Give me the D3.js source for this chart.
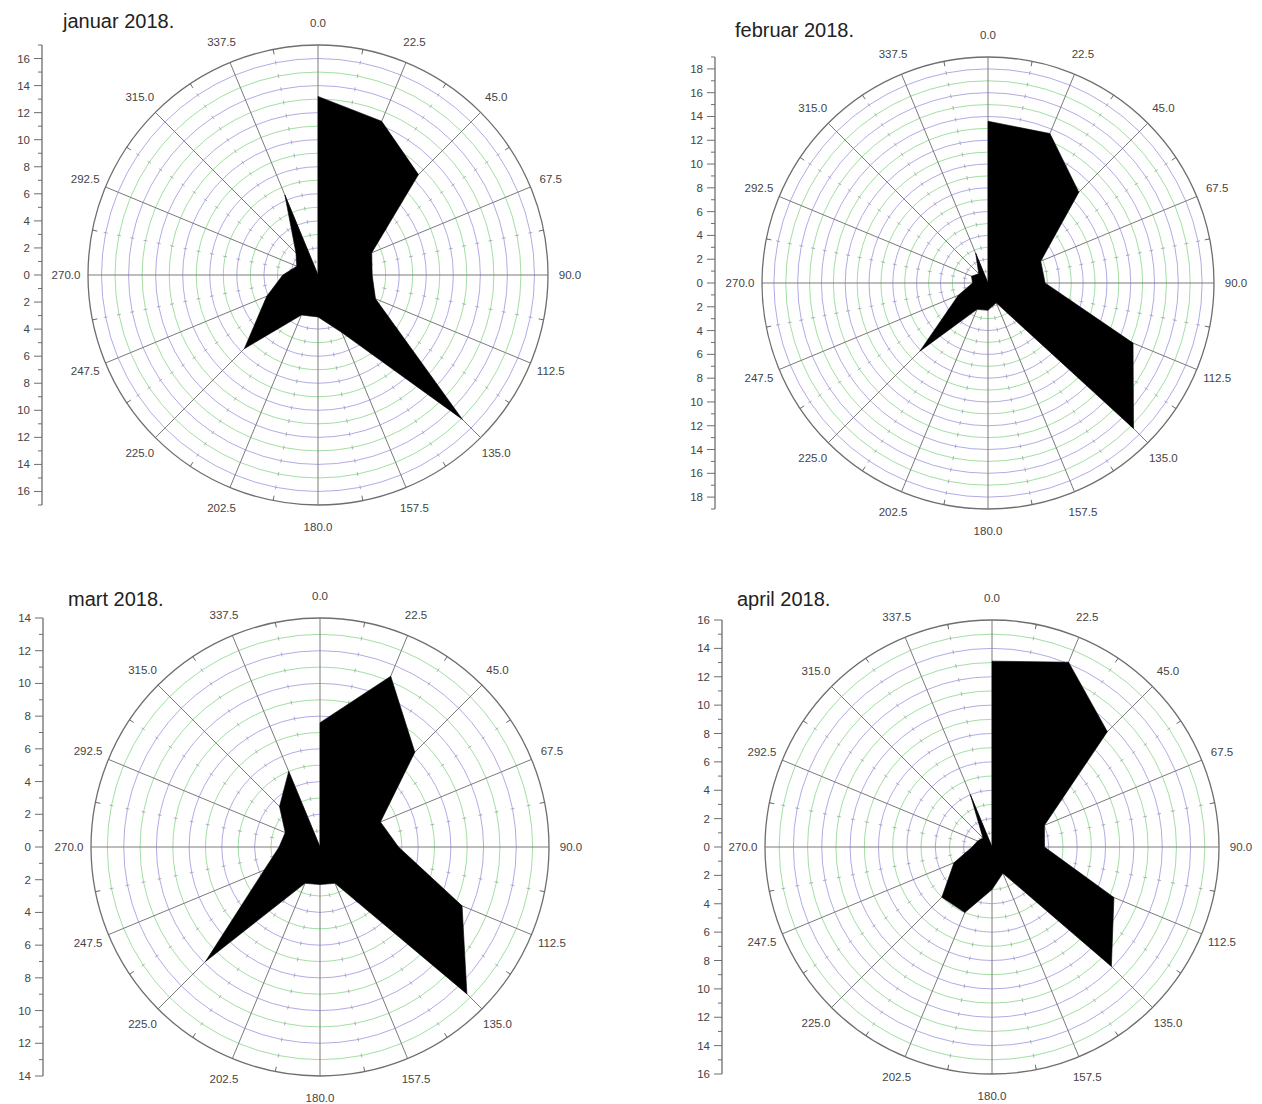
<!DOCTYPE html>
<html><head><meta charset="utf-8">
<script src="https://cdn.jsdelivr.net/npm/d3@7"></script>
<style>body{margin:0;background:#fff;} svg{display:block;font-family:"Liberation Sans",Arial,sans-serif;}</style>
</head><body><svg id="c" width="1262" height="1104"></svg>
<script>
// ---- data ----
const directions = [0,22.5,45,67.5,90,112.5,135,157.5,180,202.5,225,247.5,270,292.5,315,337.5];
const directionLabels = ["0.0","22.5","45.0","67.5","90.0","112.5","135.0","157.5","180.0","202.5","225.0","247.5","270.0","292.5","315.0","337.5"];
const titles = ["januar 2018.","februar 2018.","mart 2018.","april 2018."];
const januar  = [13.2,12.3,10.5,4.3,4.0,4.6,15.1,4.6,3.1,3.2,7.7,4.1,2.6,1.7,2.3,6.4];
const februar = [13.6,13.6,10.8,4.8,4.8,13.2,17.3,1.8,2.3,2.4,8.1,2.7,1.3,1.5,1.1,2.7];
const mart    = [7.6,11.3,8.2,4.0,4.8,9.4,12.7,2.4,2.3,2.4,9.9,3.7,2.5,2.3,3.5,5.0];
const april   = [13.1,14.1,11.5,4.0,3.7,9.3,11.9,2.0,3.0,5.0,5.0,2.9,1.4,1.1,0.9,4.0];
const axisMax = [17,19,14,16];
const axisLabelStep = 2;

const series = [januar, februar, mart, april];

// ---- layout ----
const layout = [
  {cx:318, cy:275, R:230, axisX:42,  titleX:63,  titleY:28},
  {cx:988, cy:283, R:226, axisX:715, titleX:735, titleY:37},
  {cx:320, cy:847, R:229, axisX:43,  titleX:68,  titleY:606},
  {cx:992, cy:847, R:227, axisX:722, titleX:737, titleY:606}
];

const svg = d3.select("#c");
const rad = a => a*Math.PI/180;

series.forEach((vals, i) => {
  const L = layout[i], max = axisMax[i];
  const g = svg.append("g").attr("transform", `translate(${L.cx},${L.cy})`);
  const r = d3.scaleLinear().domain([0, max]).range([0, L.R]);
  const step = r(1);

  // grid circles
  d3.range(1, max).forEach(k => {
    g.append("circle").attr("r", r(k)).attr("fill","none")
      .attr("stroke", k % 2 ? "#86d386" : "#9a90dc")
      .attr("stroke-width", 0.9).attr("stroke-opacity", 0.85);
  });

  // minor radial lines (dashed at circle crossings)
  directions.forEach(a => {
    const m = a + 11.25;
    g.append("line").attr("x1",0).attr("y1",0)
      .attr("x2", Math.sin(rad(m))*L.R).attr("y2", -Math.cos(rad(m))*L.R)
      .attr("stroke","#8a8aa0").attr("stroke-width",0.8)
      .attr("stroke-dasharray", `4 ${step-4}`).attr("stroke-dashoffset", 2)
      .attr("opacity",0.8);
  });

  // major radial lines
  directions.forEach(a => {
    g.append("line").attr("x1",0).attr("y1",0)
      .attr("x2", Math.sin(rad(a))*L.R).attr("y2", -Math.cos(rad(a))*L.R)
      .attr("stroke","#7a7a7a").attr("stroke-width",1);
  });

  // filled polygon (closed through origin)
  const pts = [{a:0, v:0}].concat(directions.map((a,j)=>({a, v:vals[j]})));
  const line = d3.lineRadial().angle(d=>rad(d.a)).radius(d=>r(d.v)).curve(d3.curveLinearClosed);
  g.append("path").attr("d", line(pts)).attr("fill","#000").attr("stroke","#000").attr("stroke-width",0.6);

  // outer circle
  g.append("circle").attr("r", L.R).attr("fill","none").attr("stroke","#6e6e6e").attr("stroke-width",1.3);
  // outer minor ticks
  directions.forEach(a => {
    const m = a + 11.25;
    g.append("line")
      .attr("x1", Math.sin(rad(m))*L.R).attr("y1", -Math.cos(rad(m))*L.R)
      .attr("x2", Math.sin(rad(m))*(L.R-5)).attr("y2", -Math.cos(rad(m))*(L.R-5))
      .attr("stroke","#6e6e6e").attr("stroke-width",1);
  });

  // angle labels
  directions.forEach((a,j) => {
    const rr = L.R + 22;
    g.append("text").attr("x", Math.sin(rad(a))*rr).attr("y", -Math.cos(rad(a))*rr)
      .attr("text-anchor","middle").attr("dominant-baseline","central")
      .attr("font-size", 11.5).attr("fill","#444").text(directionLabels[j]);
  });

  // left vertical axis
  const ay = d3.scaleLinear().domain([-max, max]).range([L.cy + L.R, L.cy - L.R]);
  const ag = svg.append("g");
  ag.append("line").attr("x1", L.axisX).attr("x2", L.axisX)
    .attr("y1", ay(max)).attr("y2", ay(-max)).attr("stroke","#6e6e6e").attr("stroke-width",1.3);
  d3.range(-max, max+1).forEach(v => {
    const major = v % axisLabelStep === 0;
    ag.append("line").attr("x1", L.axisX - (major?8:4)).attr("x2", L.axisX)
      .attr("y1", ay(v)).attr("y2", ay(v)).attr("stroke","#6e6e6e").attr("stroke-width",1);
    if (major) {
      ag.append("text").attr("x", L.axisX - 12).attr("y", ay(v))
        .attr("text-anchor","end").attr("dominant-baseline","central")
        .attr("font-size", 11.5).attr("fill","#444").text(Math.abs(v));
    }
  });

  // title
  svg.append("text").attr("x", L.titleX).attr("y", L.titleY)
    .attr("font-size", 20).attr("fill","#222").text(titles[i]);
});
</script>
</body></html>
